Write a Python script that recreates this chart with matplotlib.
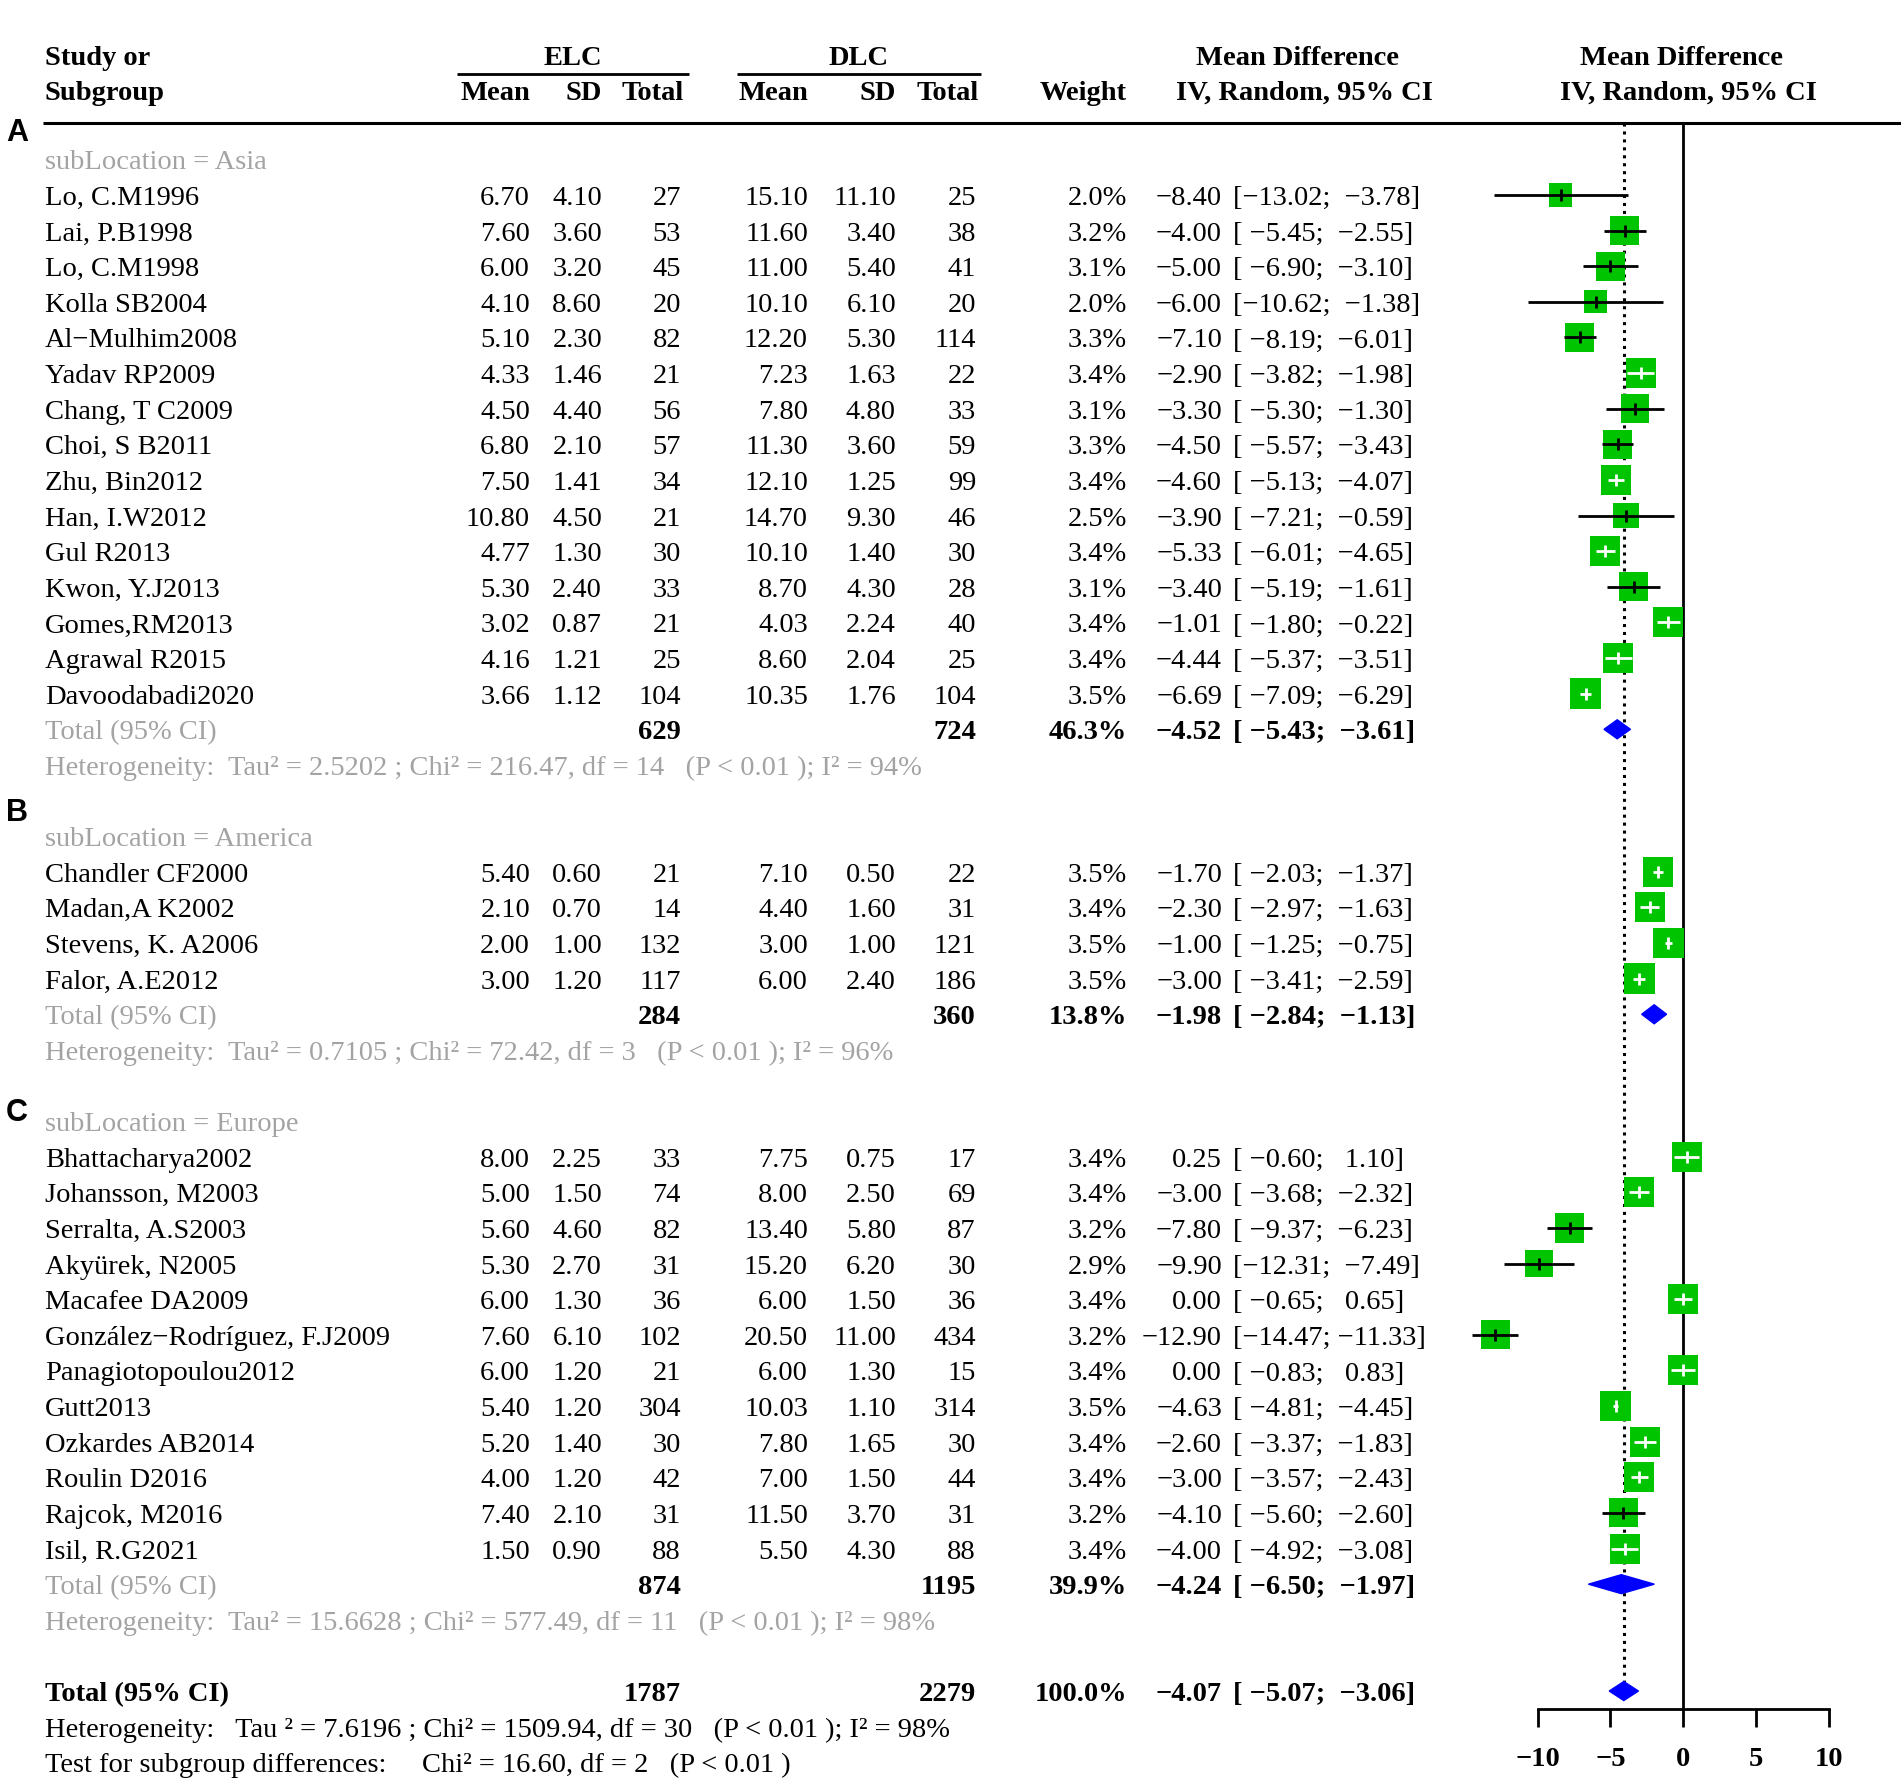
import numpy as np
import matplotlib
matplotlib.use("Agg")
import matplotlib.pyplot as plt
from matplotlib.patches import Polygon

plt.rcParams['font.family'] = ['Liberation Serif', 'DejaVu Serif']

# ---------------- data ----------------
groups = ["Asia", "America", "Europe"]
group_tags = ["A", "B", "C"]

asia_names = ["Lo, C.M1996", "Lai, P.B1998", "Lo, C.M1998", "Kolla SB2004", "Al−Mulhim2008",
              "Yadav RP2009", "Chang, T C2009", "Choi, S B2011", "Zhu, Bin2012", "Han, I.W2012",
              "Gul R2013", "Kwon, Y.J2013", "Gomes,RM2013", "Agrawal R2015", "Davoodabadi2020"]
asia_elc_mean = [6.70, 7.60, 6.00, 4.10, 5.10, 4.33, 4.50, 6.80, 7.50, 10.80, 4.77, 5.30, 3.02, 4.16, 3.66]
asia_elc_sd = [4.10, 3.60, 3.20, 8.60, 2.30, 1.46, 4.40, 2.10, 1.41, 4.50, 1.30, 2.40, 0.87, 1.21, 1.12]
asia_elc_n = [27, 53, 45, 20, 82, 21, 56, 57, 34, 21, 30, 33, 21, 25, 104]
asia_dlc_mean = [15.10, 11.60, 11.00, 10.10, 12.20, 7.23, 7.80, 11.30, 12.10, 14.70, 10.10, 8.70, 4.03, 8.60, 10.35]
asia_dlc_sd = [11.10, 3.40, 5.40, 6.10, 5.30, 1.63, 4.80, 3.60, 1.25, 9.30, 1.40, 4.30, 2.24, 2.04, 1.76]
asia_dlc_n = [25, 38, 41, 20, 114, 22, 33, 59, 99, 46, 30, 28, 40, 25, 104]
asia_weight = [2.0, 3.2, 3.1, 2.0, 3.3, 3.4, 3.1, 3.3, 3.4, 2.5, 3.4, 3.1, 3.4, 3.4, 3.5]
asia_md = [-8.40, -4.00, -5.00, -6.00, -7.10, -2.90, -3.30, -4.50, -4.60, -3.90, -5.33, -3.40, -1.01, -4.44, -6.69]
asia_lo = [-13.02, -5.45, -6.90, -10.62, -8.19, -3.82, -5.30, -5.57, -5.13, -7.21, -6.01, -5.19, -1.80, -5.37, -7.09]
asia_hi = [-3.78, -2.55, -3.10, -1.38, -6.01, -1.98, -1.30, -3.43, -4.07, -0.59, -4.65, -1.61, -0.22, -3.51, -6.29]

america_names = ["Chandler CF2000", "Madan,A K2002", "Stevens, K. A2006", "Falor, A.E2012"]
america_elc_mean = [5.40, 2.10, 2.00, 3.00]
america_elc_sd = [0.60, 0.70, 1.00, 1.20]
america_elc_n = [21, 14, 132, 117]
america_dlc_mean = [7.10, 4.40, 3.00, 6.00]
america_dlc_sd = [0.50, 1.60, 1.00, 2.40]
america_dlc_n = [22, 31, 121, 186]
america_weight = [3.5, 3.4, 3.5, 3.5]
america_md = [-1.70, -2.30, -1.00, -3.00]
america_lo = [-2.03, -2.97, -1.25, -3.41]
america_hi = [-1.37, -1.63, -0.75, -2.59]

europe_names = ["Bhattacharya2002", "Johansson, M2003", "Serralta, A.S2003", "Akyürek, N2005",
                "Macafee DA2009", "González−Rodríguez, F.J2009", "Panagiotopoulou2012", "Gutt2013",
                "Ozkardes AB2014", "Roulin D2016", "Rajcok, M2016", "Isil, R.G2021"]
europe_elc_mean = [8.00, 5.00, 5.60, 5.30, 6.00, 7.60, 6.00, 5.40, 5.20, 4.00, 7.40, 1.50]
europe_elc_sd = [2.25, 1.50, 4.60, 2.70, 1.30, 6.10, 1.20, 1.20, 1.40, 1.20, 2.10, 0.90]
europe_elc_n = [33, 74, 82, 31, 36, 102, 21, 304, 30, 42, 31, 88]
europe_dlc_mean = [7.75, 8.00, 13.40, 15.20, 6.00, 20.50, 6.00, 10.03, 7.80, 7.00, 11.50, 5.50]
europe_dlc_sd = [0.75, 2.50, 5.80, 6.20, 1.50, 11.00, 1.30, 1.10, 1.65, 1.50, 3.70, 4.30]
europe_dlc_n = [17, 69, 87, 30, 36, 434, 15, 314, 30, 44, 31, 88]
europe_weight = [3.4, 3.4, 3.2, 2.9, 3.4, 3.2, 3.4, 3.5, 3.4, 3.4, 3.2, 3.4]
europe_md = [0.25, -3.00, -7.80, -9.90, 0.00, -12.90, 0.00, -4.63, -2.60, -3.00, -4.10, -4.00]
europe_lo = [-0.60, -3.68, -9.37, -12.31, -0.65, -14.47, -0.83, -4.81, -3.37, -3.57, -5.60, -4.92]
europe_hi = [1.10, -2.32, -6.23, -7.49, 0.65, -11.33, 0.83, -4.45, -1.83, -2.43, -2.60, -3.08]

sub_elc_total = [629, 284, 874]
sub_dlc_total = [724, 360, 1195]
sub_weight = [46.3, 13.8, 39.9]
sub_md = [-4.52, -1.98, -4.24]
sub_lo = [-5.43, -2.84, -6.50]
sub_hi = [-3.61, -1.13, -1.97]
sub_tau2 = ["2.5202", "0.7105", "15.6628"]
sub_chi2 = ["216.47", "72.42", "577.49"]
sub_df = [14, 3, 11]
sub_i2 = [94, 96, 98]

overall_elc_total = 1787
overall_dlc_total = 2279
overall_weight = 100.0
overall_md = -4.07
overall_lo = -5.07
overall_hi = -3.06
overall_het = "Heterogeneity:   Tau ² = 7.6196 ; Chi² = 1509.94, df = 30   (P < 0.01 ); I² = 98%"
subgroup_test = "Test for subgroup differences:     Chi² = 16.60, df = 2   (P < 0.01 )"

xticks = [-10, -5, 0, 5, 10]

# ---------------- layout (pixels) ----------------
W, H = 1901, 1787
FS = 20.5
GREY = "#a3a3a3"
GREEN = "#00c400"
BLUE = "#0000ff"

X_NAME = 45
X_EM, X_ESD, X_EN = 530, 602, 681
X_DM, X_DSD, X_DN = 808, 896, 976
X_W, X_EST, X_CI = 1127, 1222, 1233
Y_HEAD_LINE = 123
Y_AXIS = 1709
X0_PX, PX_PER_UNIT = 1683, 14.55
XMIN, XMAX = -15, 14.5


def row_y(r):
    return 195 + 35.62 * (r - 1)


def fmt(v):
    return f"{v:.2f}".replace("-", "−")


def ci_text(lo, hi):
    return "[" + fmt(lo).rjust(6) + "; " + fmt(hi).rjust(6) + "]"


fig = plt.figure(figsize=(W / 100, H / 100), dpi=100)
ax = fig.add_axes([0, 0, 1, 1])
ax.set_xlim(0, W)
ax.set_ylim(H, 0)
ax.axis("off")

fx = fig.add_axes([(X0_PX + XMIN * PX_PER_UNIT) / W, 0, (XMAX - XMIN) * PX_PER_UNIT / W, 1])
fx.set_xlim(XMIN, XMAX)
fx.set_ylim(H, 0)
fx.patch.set_visible(False)
for s in ["top", "left", "right"]:
    fx.spines[s].set_visible(False)
fx.spines["bottom"].set_position(("data", Y_AXIS))
fx.spines["bottom"].set_bounds(-10, 10)
fx.spines["bottom"].set_linewidth(2.0)
fx.set_yticks([])
fx.set_xticks(xticks)
fx.set_xticklabels([str(t).replace("-", "−") for t in xticks], fontweight="bold")
fx.tick_params(axis="x", direction="out", length=13, width=2.0, pad=14, labelsize=FS)


def txt(x, y, s, ha="left", color="black", weight="normal", size=FS, family=None):
    kw = {}
    if family:
        kw["family"] = family
    ax.text(x, y + 10, s, ha=ha, va="baseline", color=color, fontweight=weight, fontsize=size, **kw)


# ---------------- header ----------------
hy1, hy2 = 55, 90
txt(X_NAME, hy1, "Study or", weight="bold")
txt(X_NAME, hy2, "Subgroup", weight="bold")
txt((457 + 689) / 2, hy1, "ELC", ha="center", weight="bold")
txt((737 + 981) / 2, hy1, "DLC", ha="center", weight="bold")
ax.hlines(74, 457, 689, color="black", lw=2.0)
ax.hlines(74, 737, 981, color="black", lw=2.0)
for x, s in [(X_EM, "Mean"), (X_ESD, "SD"), (X_EN + 3, "Total"), (X_DM, "Mean"), (X_DSD, "SD"),
             (X_DN + 3, "Total"), (X_W, "Weight")]:
    txt(x, hy2, s, ha="right", weight="bold")
txt(1298, hy1, "Mean Difference", ha="center", weight="bold")
txt(1304, hy2, "IV, Random, 95% CI", ha="center", weight="bold")
txt(1682, hy1, "Mean Difference", ha="center", weight="bold")
txt(1688, hy2, "IV, Random, 95% CI", ha="center", weight="bold")
ax.hlines(Y_HEAD_LINE, 43, W, color="black", lw=2.2)

# ---------------- rows ----------------
group_data = [
    (asia_names, asia_elc_mean, asia_elc_sd, asia_elc_n, asia_dlc_mean, asia_dlc_sd, asia_dlc_n,
     asia_weight, asia_md, asia_lo, asia_hi),
    (america_names, america_elc_mean, america_elc_sd, america_elc_n, america_dlc_mean, america_dlc_sd,
     america_dlc_n, america_weight, america_md, america_lo, america_hi),
    (europe_names, europe_elc_mean, europe_elc_sd, europe_elc_n, europe_dlc_mean, europe_dlc_sd,
     europe_dlc_n, europe_weight, europe_md, europe_lo, europe_hi),
]
tag_y = [133, 813, 1113]

r = 0
for g, (names, em, esd, en, dm, dsd, dn, wt, md, lo, hi) in enumerate(group_data):
    ax.text(17, tag_y[g], group_tags[g], ha="center", va="center", fontsize=22, fontweight="bold",
            family=["Liberation Sans", "DejaVu Sans"])
    txt(X_NAME, row_y(r), f"subLocation = {groups[g]}", color=GREY)
    ys = []
    for i in range(len(names)):
        r += 1
        y = row_y(r)
        ys.append(y)
        txt(X_NAME, y, names[i])
        txt(X_EM, y, f"{em[i]:.2f}", ha="right")
        txt(X_ESD, y, f"{esd[i]:.2f}", ha="right")
        txt(X_EN, y, str(en[i]), ha="right")
        txt(X_DM, y, f"{dm[i]:.2f}", ha="right")
        txt(X_DSD, y, f"{dsd[i]:.2f}", ha="right")
        txt(X_DN, y, str(dn[i]), ha="right")
        txt(X_W, y, f"{wt[i]:.1f}%", ha="right")
        txt(X_EST, y, fmt(md[i]), ha="right")
        txt(X_CI, y, ci_text(lo[i], hi[i]))

    # forest marks for studies
    wt_a = np.array(wt)
    side_px = 16.27 * np.sqrt(wt_a)
    fx.scatter(md, ys, marker="s", s=(side_px * 0.72) ** 2, color=GREEN, edgecolors="none", zorder=3)
    half_units = side_px / 2 / PX_PER_UNIT
    inside = (np.array(lo) >= np.array(md) - half_units) & (np.array(hi) <= np.array(md) + half_units)
    cols = ["white" if k else "black" for k in inside]
    fx.hlines(ys, lo, hi, colors=cols, lw=2.0, zorder=4)
    fx.vlines(md, np.array(ys) - 6, np.array(ys) + 6, colors=cols, lw=2.0, zorder=4)

    # subgroup total
    r += 1
    y = row_y(r)
    txt(X_NAME, y, "Total (95% CI)", color=GREY)
    txt(X_EN, y, str(sub_elc_total[g]), ha="right", weight="bold")
    txt(X_DN, y, str(sub_dlc_total[g]), ha="right", weight="bold")
    txt(X_W, y, f"{sub_weight[g]:.1f}%", ha="right", weight="bold")
    txt(X_EST, y, fmt(sub_md[g]), ha="right", weight="bold")
    txt(X_CI, y, ci_text(sub_lo[g], sub_hi[g]), weight="bold")
    fx.add_patch(Polygon([(sub_lo[g], y), (sub_md[g], y - 9.5), (sub_hi[g], y), (sub_md[g], y + 9.5)],
                         closed=True, color=BLUE, zorder=3))
    r += 1
    txt(X_NAME, row_y(r),
        f"Heterogeneity:  Tau² = {sub_tau2[g]} ; Chi² = {sub_chi2[g]}, df = {sub_df[g]}   "
        f"(P < 0.01 ); I² = {sub_i2[g]}%", color=GREY)
    r += 2

# ---------------- overall ----------------
y = row_y(r)
txt(X_NAME, y, "Total (95% CI)", weight="bold")
txt(X_EN, y, str(overall_elc_total), ha="right", weight="bold")
txt(X_DN, y, str(overall_dlc_total), ha="right", weight="bold")
txt(X_W, y, f"{overall_weight:.1f}%", ha="right", weight="bold")
txt(X_EST, y, fmt(overall_md), ha="right", weight="bold")
txt(X_CI, y, ci_text(overall_lo, overall_hi), weight="bold")
fx.add_patch(Polygon([(overall_lo, y), (overall_md, y - 9.5), (overall_hi, y), (overall_md, y + 9.5)],
                     closed=True, color=BLUE, zorder=3))
txt(X_NAME, row_y(r + 1), overall_het)
txt(X_NAME, row_y(r + 2), subgroup_test)

# reference lines
fx.vlines(0, Y_HEAD_LINE, Y_AXIS, color="black", lw=2.0, zorder=1)
fx.vlines(overall_md, Y_HEAD_LINE, y - 9.5, color="black", lw=2.2, linestyles=(0, (1, 1.6)), zorder=1)

fig.savefig("out.png", dpi=100)
